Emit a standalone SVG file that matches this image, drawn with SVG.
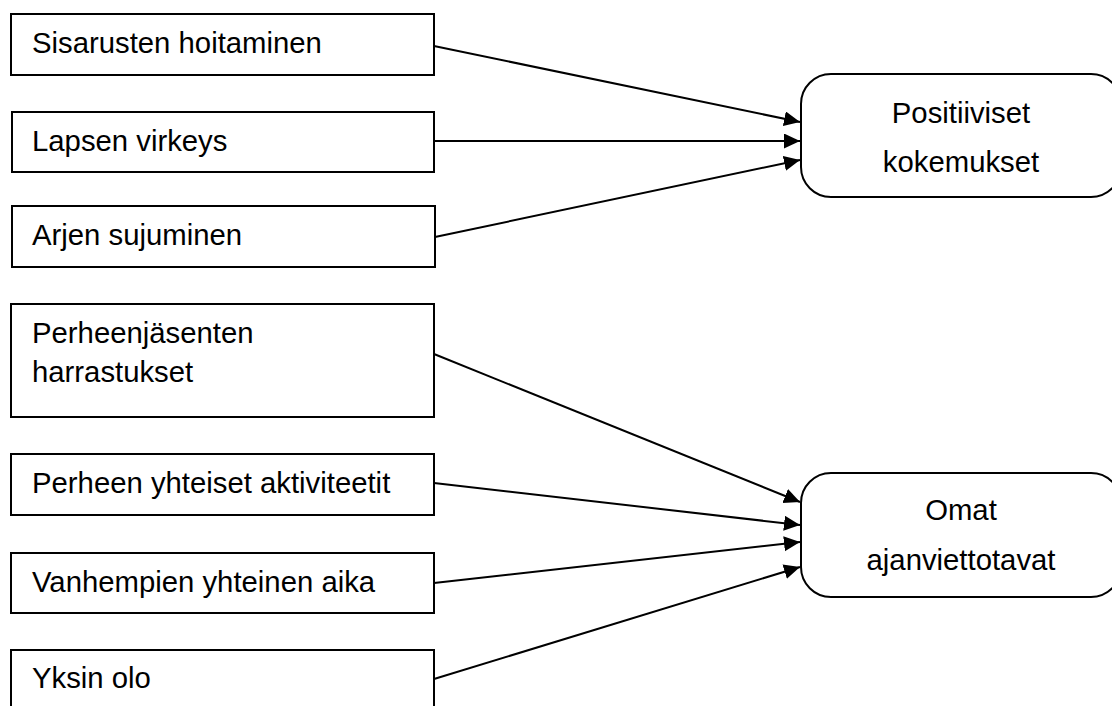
<svg xmlns="http://www.w3.org/2000/svg" width="1112" height="706" viewBox="0 0 1112 706">
<style>
.box{fill:#fff;stroke:#000;stroke-width:2}
.t{font-family:"Liberation Sans",Arial,sans-serif;font-size:29.3px;fill:#000}
.c{text-anchor:middle}
.edge{stroke:#000;stroke-width:2;fill:none;marker-end:url(#ah)}
</style>
<defs>
<marker id="ah" markerUnits="userSpaceOnUse" markerWidth="18" markerHeight="16" refX="16" refY="7.5" orient="auto">
<path d="M0,0 L16,7.5 L0,15 Z" fill="#000"/>
</marker>
</defs>
<rect width="1112" height="706" fill="#fff"/>
<g id="connectors">
<line class="edge" x1="434" y1="46" x2="800" y2="122"/>
<line class="edge" x1="434" y1="141" x2="800" y2="141"/>
<line class="edge" x1="435" y1="237" x2="800" y2="160"/>
<line class="edge" x1="434" y1="354" x2="800" y2="502"/>
<line class="edge" x1="434" y1="483" x2="800" y2="525"/>
<line class="edge" x1="434" y1="583" x2="800" y2="542"/>
<line class="edge" x1="434" y1="679" x2="800" y2="567"/>
</g>
<g id="n1"><rect class="box" x="11" y="14" width="423" height="61"/><text class="t" x="32" y="53">Sisarusten hoitaminen</text></g>
<g id="n2"><rect class="box" x="12" y="112" width="422" height="60"/><text class="t" x="32" y="151">Lapsen virkeys</text></g>
<g id="n3"><rect class="box" x="12" y="206" width="423" height="61"/><text class="t" x="32" y="245">Arjen sujuminen</text></g>
<g id="n4"><rect class="box" x="11" y="304" width="423" height="113"/><text class="t" x="32" y="343">Perheenjäsenten</text><text class="t" x="32" y="382">harrastukset</text></g>
<g id="n5"><rect class="box" x="11" y="454" width="423" height="61"/><text class="t" x="32" y="493">Perheen yhteiset aktiviteetit</text></g>
<g id="n6"><rect class="box" x="11" y="553" width="423" height="60"/><text class="t" x="32" y="592">Vanhempien yhteinen aika</text></g>
<g id="n7"><rect class="box" x="11" y="650" width="423" height="70"/><text class="t" x="32" y="688">Yksin olo</text></g>
<g id="p1"><rect class="box" x="801" y="74" width="320" height="123" rx="30" ry="30"/><text class="t c" x="961" y="123">Positiiviset</text><text class="t c" x="961" y="172">kokemukset</text></g>
<g id="p2"><rect class="box" x="801" y="473" width="320" height="124" rx="30" ry="30"/><text class="t c" x="961" y="520">Omat</text><text class="t c" x="961" y="570">ajanviettotavat</text></g>
</svg>
